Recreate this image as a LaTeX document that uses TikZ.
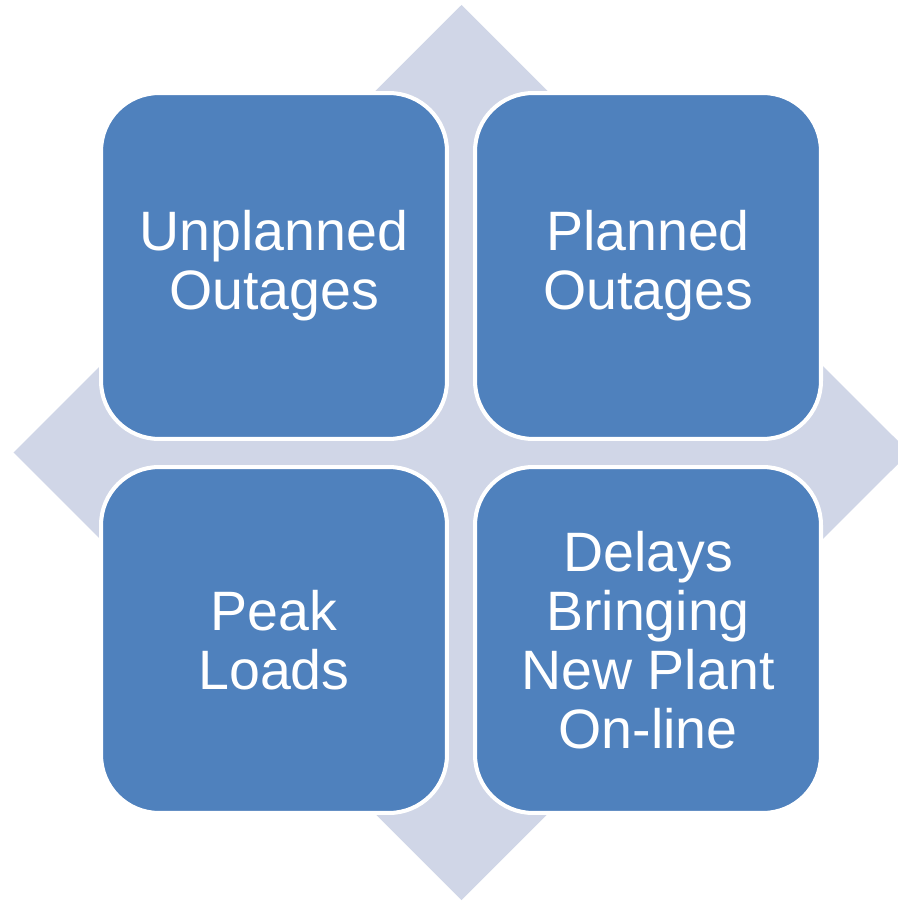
\documentclass[tikz,border=0pt]{standalone}
\usepackage{fontspec}
\setmainfont{Liberation Sans}
\usepackage{tikz}

\begin{document}
\begin{tikzpicture}[x=0.02cm,y=-0.02cm,
  quad/.style={draw=white, line width=2.3pt, fill=quadBlue, rounded corners=1.16cm,
    minimum width=6.92cm, minimum height=6.92cm, inner sep=0pt, text=white,
    align=center, font=\fontsize{31.6}{33.7}\selectfont}]
\definecolor{quadBlue}{RGB}{79,129,189}
\definecolor{diamondGray}{RGB}{208,214,231}
\useasboundingbox (0,0) rectangle (897,901);
\fill[diamondGray] (461.5,5) -- (909.5,452.5) -- (461.5,900) -- (13.5,452.5) -- cycle;
\node[quad] (unplanned) at (274,266) {Unplanned\\Outages};
\node[quad] (planned) at (648,266) {Planned\\Outages};
\node[quad] (peak) at (274,640) {Peak\\Loads};
\node[quad] (delays) at (648,640) {Delays\\Bringing\\New Plant\\On-line};
\end{tikzpicture}
\end{document}
